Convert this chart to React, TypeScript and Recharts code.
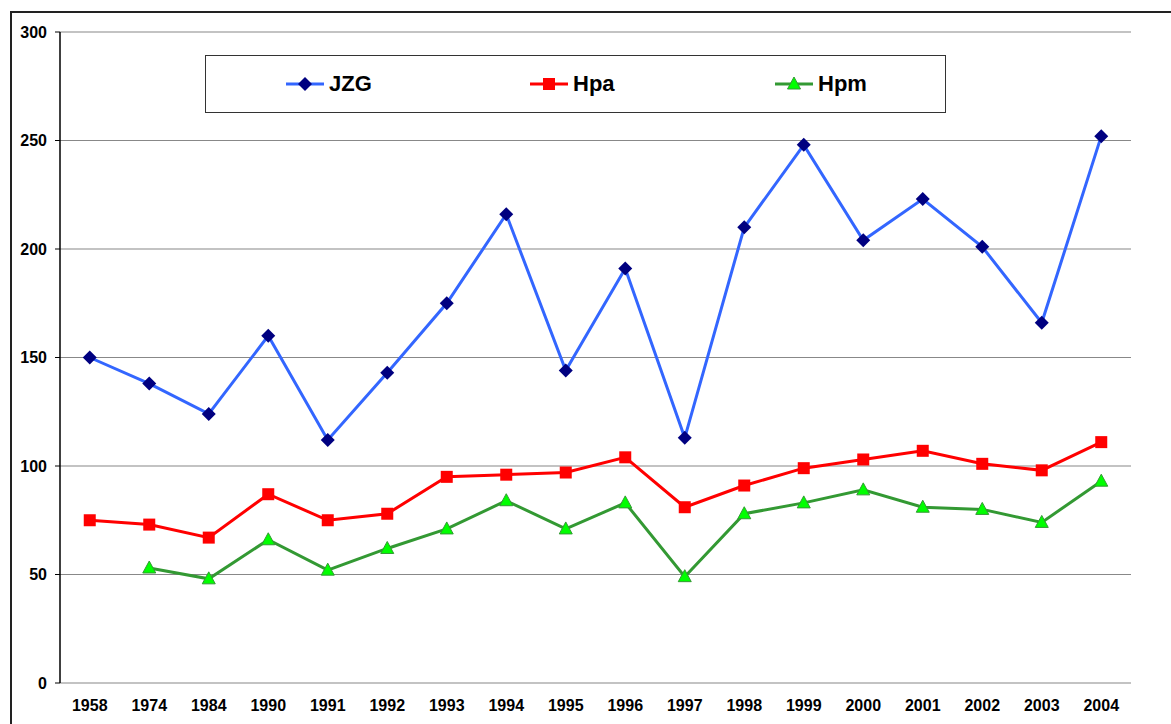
import React from 'react';
import { LineChart, XAxis, YAxis, CartesianGrid, Line, Legend } from 'recharts';

const years = ['1958', '1974', '1984', '1990', '1991', '1992', '1993', '1994', '1995', '1996', '1997', '1998', '1999', '2000', '2001', '2002', '2003', '2004'];
const jzg = [150, 138, 124, 160, 112, 143, 175, 216, 144, 191, 113, 210, 248, 204, 223, 201, 166, 252];
const hpa = [75, 73, 67, 87, 75, 78, 95, 96, 97, 104, 81, 91, 99, 103, 107, 101, 98, 111];
const hpm = [null, 53, 48, 66, 52, 62, 71, 84, 71, 83, 49, 78, 83, 89, 81, 80, 74, 93];
const yTicks = [0, 50, 100, 150, 200, 250, 300];

const data = years.map((year, i) => ({ pos: i + 0.5, year, JZG: jzg[i], Hpa: hpa[i], Hpm: hpm[i] }));
const boundaryTicks = years.map((_, i) => i).concat([years.length]);
const centerTicks = years.map((_, i) => i + 0.5);

const font = 'Arial, "Liberation Sans", sans-serif';

const Diamond = (props: any) => {
  const { cx, cy, index } = props;
  if (cx == null || cy == null) return <g key={index} />;
  const r = 7;
  return <path key={index} d={`M${cx},${cy - r}L${cx + r},${cy}L${cx},${cy + r}L${cx - r},${cy}Z`} fill="#000080" />;
};

const Square = (props: any) => {
  const { cx, cy, index } = props;
  if (cx == null || cy == null) return <g key={index} />;
  return <rect key={index} x={cx - 6} y={cy - 6} width={12} height={12} fill="#FF0000" />;
};

const Triangle = (props: any) => {
  const { cx, cy, index, value } = props;
  if (cx == null || cy == null || value == null) return <g key={index} />;
  return <path key={index} d={`M${cx},${cy - 7}L${cx + 6.5},${cy + 5}L${cx - 6.5},${cy + 5}Z`} fill="#00FF00" stroke="#339933" strokeWidth={1} />;
};

const legendItems = [
  { name: 'JZG', color: '#3366FF', left: 80, marker: 'diamond' },
  { name: 'Hpa', color: '#FF0000', left: 324, marker: 'square' },
  { name: 'Hpm', color: '#339933', left: 569, marker: 'triangle' },
];

const LegendBox = () => (
  <div style={{ position: 'relative', width: 741, height: 58, border: '1px solid #333', boxSizing: 'border-box', background: '#fff', fontFamily: font }}>
    {legendItems.map((it) => (
      <div key={it.name} style={{ position: 'absolute', left: it.left, top: 0, height: 56, display: 'flex', alignItems: 'center' }}>
        <svg width={38} height={16}>
          <line x1={0} y1={8} x2={38} y2={8} stroke={it.color} strokeWidth={3} />
          {it.marker === 'diamond' && <path d="M19,1L26,8L19,15L12,8Z" fill="#000080" />}
          {it.marker === 'square' && <rect x={13} y={2} width={12} height={12} fill="#FF0000" />}
          {it.marker === 'triangle' && <path d="M19,1L25.5,13L12.5,13Z" fill="#00FF00" stroke="#339933" />}
        </svg>
        <span style={{ marginLeft: 5, fontSize: 22, fontWeight: 'bold', color: '#000' }}>{it.name}</span>
      </div>
    ))}
  </div>
);

export default function App() {
  return (
    <div style={{ position: 'fixed', left: 0, top: 0, width: 1171, height: 724, overflow: 'hidden', background: '#fff' }}>
      <div style={{ position: 'absolute', left: 10, top: 11, width: 1300, height: 800, border: '2px solid #222' }} />
      <div style={{ position: 'absolute', left: 0, top: 0 }}>
        <LineChart width={1171} height={724} data={data} margin={{ top: 32, right: 40, bottom: 0, left: 10 }}>
          <CartesianGrid xAxisId="pos" yAxisId="left" vertical={false} stroke="#888" strokeWidth={1.2} />
          <XAxis
            xAxisId="pos"
            dataKey="pos"
            type="number"
            domain={[0, years.length]}
            ticks={boundaryTicks}
            tick={false}
            tickSize={5}
            height={0}
            axisLine={{ stroke: '#000', strokeWidth: 1.5 }}
            tickLine={{ stroke: '#000' }}
          />
          <XAxis
            xAxisId="labels"
            dataKey="pos"
            type="number"
            domain={[0, years.length]}
            ticks={centerTicks}
            tickFormatter={(v: number) => years[Math.floor(v)]}
            interval={0}
            height={41}
            axisLine={false}
            tickLine={false}
            tickSize={0}
            tickMargin={17}
            tick={{ fill: '#000', fontSize: 16, fontWeight: 'bold', fontFamily: font }}
          />
          <YAxis
            yAxisId="left"
            domain={[0, 300]}
            ticks={yTicks}
            width={50}
            tickSize={5}
            tickMargin={8}
            axisLine={{ stroke: '#000', strokeWidth: 1.5 }}
            tickLine={{ stroke: '#000' }}
            tick={{ fill: '#000', fontSize: 16, fontWeight: 'bold', fontFamily: font }}
          />
          <YAxis yAxisId="right" orientation="right" domain={[0, 300]} width={0} tick={false} tickLine={false} axisLine={{ stroke: '#888', strokeWidth: 1.5 }} />
          <Legend
            verticalAlign="middle"
            align="center"
            wrapperStyle={{ top: 55, left: 205, width: 741, height: 58 }}
            content={() => <LegendBox />}
          />
          <Line xAxisId="pos" yAxisId="left" type="linear" dataKey="JZG" stroke="#3366FF" strokeWidth={3} dot={Diamond} activeDot={false} isAnimationActive={false} />
          <Line xAxisId="pos" yAxisId="left" type="linear" dataKey="Hpa" stroke="#FF0000" strokeWidth={3} dot={Square} activeDot={false} isAnimationActive={false} />
          <Line xAxisId="pos" yAxisId="left" type="linear" dataKey="Hpm" stroke="#339933" strokeWidth={3} dot={Triangle} activeDot={false} isAnimationActive={false} />
        </LineChart>
      </div>
    </div>
  );
}
